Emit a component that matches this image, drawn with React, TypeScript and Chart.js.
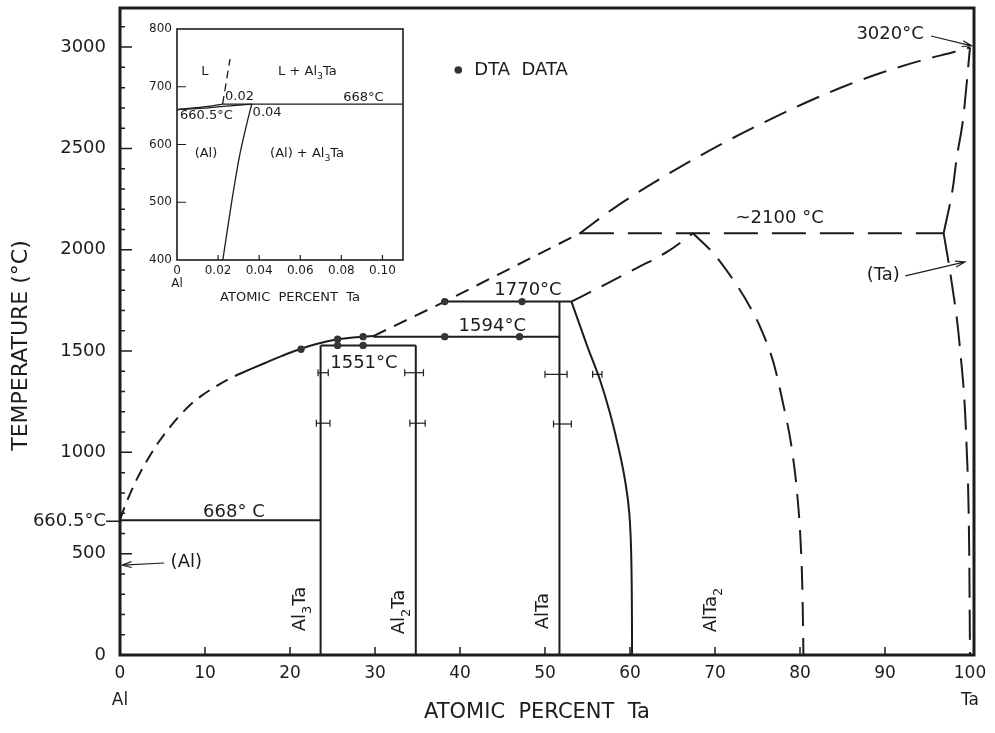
import React, { useEffect, useRef } from 'react';
import { Chart, registerables } from 'chart.js';
Chart.register(...registerables);

const FONT = "'DejaVu Sans', 'Liberation Sans', sans-serif";
const INK = '#1c1c1c';

type Pt = [number, number];

// ---------- main axes ----------
const xTickValues = [0, 10, 20, 30, 40, 50, 60, 70, 80, 90, 100];
const xTickLabels = ['0', '10', '20', '30', '40', '50', '60', '70', '80', '90', '100'];
const xTickSubLabels = ['Al', '', '', '', '', '', '', '', '', '', 'Ta'];
const yTickValues = [0, 500, 660.5, 1000, 1500, 2000, 2500, 3000];
const yTickLabels = ['0', '500', '660.5°C', '1000', '1500', '2000', '2500', '3000'];

// ---------- main phase boundaries (at.% Ta, °C) ----------
const liquidusLowDashed: Pt[] = [[0, 668], [0.59, 735], [1.18, 795], [2.12, 879], [3.29, 967], [4.47, 1046], [5.65, 1113], [6.82, 1172], [8.24, 1234], [9.65, 1281], [11.18, 1323], [12.94, 1365], [14.71, 1399]];
const liquidusLowSolid: Pt[] = [[14.71, 1399], [17.06, 1441], [19.06, 1476], [21.18, 1510], [23.1, 1535], [25.6, 1558], [28.6, 1571], [29.8, 1574]];
const liquidusMidDashed: Pt[] = [[29.8, 1574], [38.2, 1744], [54.1, 2081]];
const liquidusHighDashed: Pt[] = [[54.1, 2081], [58, 2202], [62.7, 2329], [67.1, 2437], [71, 2527], [75.3, 2619], [80, 2713], [84.7, 2798], [89.4, 2871], [94.1, 2932], [98, 2975], [100, 2998]];
const eutectic668: Pt[] = [[0, 665], [23.6, 665]];
const peritectic1551: Pt[] = [[23.6, 1528], [34.8, 1528]];
const peritectic1594: Pt[] = [[29.8, 1571], [51.7, 1571]];
const peritectic1770: Pt[] = [[38.2, 1744], [53.1, 1744]];
const peritectic2100: Pt[] = [[54.1, 2081], [96.9, 2081]];
const al3TaLine: Pt[] = [[23.6, 0], [23.6, 1528]];
const al2TaLine: Pt[] = [[34.8, 0], [34.8, 1528]];
const alTaLeft: Pt[] = [[51.7, 0], [51.7, 1744]];
const alTaRight: Pt[] = [[53.11, 1744], [54.99, 1522], [56.47, 1357], [57.65, 1193], [58.62, 1028], [59.41, 863], [59.92, 699], [60.06, 600], [60.14, 500], [60.2, 350], [60.23, 180], [60.24, 0]];
const alTa2Rise: Pt[] = [[53.1, 1744], [57, 1827], [61, 1914], [64.5, 1993], [67.4, 2081]];
const alTa2Fall: Pt[] = [[67.4, 2081], [69.8, 1983], [72.55, 1826], [74.1, 1719], [75.3, 1620], [76.9, 1440], [78, 1242], [79, 1028], [79.7, 781], [80.1, 535], [80.3, 288], [80.4, 0]];
const taSolvusUpper: Pt[] = [[96.9, 2081], [98, 2311], [98.4, 2443], [99.2, 2650], [100, 2998]];
const taSolvusLower: Pt[] = [[96.9, 2081], [97.8, 1851], [98.8, 1522], [99.6, 1028], [99.9, 535], [100, 0]];

// DTA data points
const dtaX = [21.3, 25.6, 25.6, 28.6, 28.6, 38.2, 47.0, 38.2, 47.3];
const dtaY = [1509, 1558, 1528, 1571, 1528, 1571, 1571, 1744, 1744];

// composition error bars
const errY = [1393, 1144, 1393, 1144, 1385, 1140, 1385];
const errLo = [23.3, 23.1, 33.5, 34.1, 50.0, 51.0, 55.6];
const errHi = [24.5, 24.7, 35.7, 35.9, 52.6, 53.1, 56.7];

// ---------- inset (0 - 0.11 at.% Ta) ----------
const insetXTicks = [0, 0.02, 0.04, 0.06, 0.08, 0.1];
const insetXLabels = ['0', '0.02', '0.04', '0.06', '0.08', '0.10'];
const insetXSub = ['Al', '', '', '', '', ''];
const insetYTicks = [400, 500, 600, 700, 800];
const insetYLabels = ['400', '500', '600', '700', '800'];
const insetLiquidus: Pt[] = [[0, 660.5], [0.0128, 665], [0.0222, 670]];
const insetSolidus: Pt[] = [[0, 660.5], [0.0128, 663], [0.0226, 666], [0.0364, 670]];
const insetSolvus: Pt[] = [[0.0223, 400], [0.0264, 496], [0.0301, 574], [0.0339, 635], [0.0364, 670]];
const insetPeritectic: Pt[] = [[0.0222, 670], [0.11, 670]];
const insetLiquidusAbove: Pt[] = [[0.0222, 670], [0.0258, 748]];

// ---------- annotations (data coordinates) ----------
const mainLabels = [
  { t: '668° C', x: 13.4, y: 706 },
  { t: '1551°C', x: 28.7, y: 1441 },
  { t: '1594°C', x: 43.8, y: 1624 },
  { t: '1770°C', x: 48.0, y: 1802 },
  { t: '~2100 °C', x: 77.6, y: 2157 },
  { t: '3020°C', x: 90.6, y: 3065 },
  { t: '(Ta)', x: 89.8, y: 1876 },
  { t: '(Al)', x: 7.8, y: 459 },
];
const phaseLabels = [
  { t: 'Al_3Ta', x: 21.2, y: 227 },
  { t: 'Al_2Ta', x: 32.9, y: 212 },
  { t: 'AlTa', x: 49.8, y: 217 },
  { t: 'AlTa_2', x: 69.6, y: 222 },
];
const mainArrows = [
  { x1: 95.4, y1: 3055, x2: 100.2, y2: 3006 },
  { x1: 92.4, y1: 1871, x2: 99.4, y2: 1940 },
  { x1: 5.2, y1: 454, x2: 0.24, y2: 444 },
];
const legendPos = { x: 39.8, y: 2887 };
const insetLabels = [
  { t: 'L', x: 0.0136, y: 726, c: true },
  { t: 'L + Al_3Ta', x: 0.0492, y: 726, c: false },
  { t: '0.02', x: 0.0234, y: 683, c: false },
  { t: '668°C', x: 0.0809, y: 681, c: false },
  { t: '660.5°C', x: 0.0015, y: 650, c: false },
  { t: '0.04', x: 0.0368, y: 656, c: false },
  { t: '(Al)', x: 0.0141, y: 585, c: true },
  { t: '(Al) + Al_3Ta', x: 0.0453, y: 585, c: false },
];

// ---------- helpers ----------
function toXY(pts: Pt[]) {
  return pts.map(([x, y]) => ({ x, y }));
}
function lineDs(pts: Pt[], dash: number[] = [], curved = false, width = 2) {
  return {
    data: toXY(pts),
    showLine: true,
    borderColor: INK,
    borderWidth: width,
    borderDash: dash,
    borderCapStyle: 'butt',
    cubicInterpolationMode: curved ? 'monotone' : 'default',
    tension: 0,
    pointRadius: 0,
    pointHoverRadius: 0,
    fill: false,
  };
}
type Part = { t: string; sub: boolean };
function parseRich(s: string): Part[] {
  const parts: Part[] = [];
  let buf = '';
  for (let i = 0; i < s.length; i++) {
    if (s[i] === '_' && i + 1 < s.length) {
      if (buf) parts.push({ t: buf, sub: false });
      buf = '';
      parts.push({ t: s[i + 1], sub: true });
      i++;
    } else buf += s[i];
  }
  if (buf) parts.push({ t: buf, sub: false });
  return parts;
}
function drawRich(ctx: CanvasRenderingContext2D, s: string, x: number, y: number, size: number, center: boolean, rot = 0) {
  const parts = parseRich(s);
  ctx.save();
  ctx.translate(x, y);
  if (rot) ctx.rotate(rot);
  ctx.textBaseline = 'middle';
  ctx.textAlign = 'left';
  ctx.fillStyle = INK;
  const sub = size * 0.72;
  let total = 0;
  const widths = parts.map((p) => {
    ctx.font = `${p.sub ? sub : size}px ${FONT}`;
    const w = ctx.measureText(p.t).width;
    total += w;
    return w;
  });
  let cx = center ? -total / 2 : 0;
  parts.forEach((p, i) => {
    ctx.font = `${p.sub ? sub : size}px ${FONT}`;
    ctx.fillText(p.t, cx, p.sub ? size * 0.4 : 0);
    cx += widths[i];
  });
  ctx.restore();
}
function drawArrow(ctx: CanvasRenderingContext2D, x1: number, y1: number, x2: number, y2: number) {
  const a = Math.atan2(y2 - y1, x2 - x1);
  ctx.save();
  ctx.strokeStyle = INK;
  ctx.lineWidth = 1.2;
  ctx.beginPath();
  ctx.moveTo(x1, y1);
  ctx.lineTo(x2, y2);
  ctx.moveTo(x2 - 10 * Math.cos(a - 0.3), y2 - 10 * Math.sin(a - 0.3));
  ctx.lineTo(x2, y2);
  ctx.lineTo(x2 - 10 * Math.cos(a + 0.3), y2 - 10 * Math.sin(a + 0.3));
  ctx.stroke();
  ctx.restore();
}

const mainDecor = {
  id: 'mainDecor',
  afterDraw(chart: any) {
    const { ctx, chartArea: ca, scales } = chart;
    const xs = scales.x;
    const ys = scales.y;
    ctx.save();
    ctx.strokeStyle = INK;
    ctx.lineWidth = 1.5;
    ctx.beginPath();
    for (let v = 100; v <= 3100; v += 100) {
      const py = ys.getPixelForValue(v);
      const len = v % 500 === 0 ? 12 : 5;
      ctx.moveTo(ca.left, py);
      ctx.lineTo(ca.left + len, py);
    }
    const p660 = ys.getPixelForValue(660.5);
    ctx.moveTo(ca.left - 14, p660);
    ctx.lineTo(ca.left, p660);
    for (let v = 10; v <= 90; v += 10) {
      const px = xs.getPixelForValue(v);
      ctx.moveTo(px, ca.bottom);
      ctx.lineTo(px, ca.bottom - 8);
    }
    ctx.stroke();
    ctx.lineWidth = 3;
    ctx.strokeRect(ca.left, ca.top, ca.right - ca.left, ca.bottom - ca.top);
    ctx.restore();

    mainLabels.forEach((l) => drawRich(ctx, l.t, xs.getPixelForValue(l.x), ys.getPixelForValue(l.y), 18, true));
    phaseLabels.forEach((l) => drawRich(ctx, l.t, xs.getPixelForValue(l.x), ys.getPixelForValue(l.y), 18, true, -Math.PI / 2));
    mainArrows.forEach((a) =>
      drawArrow(ctx, xs.getPixelForValue(a.x1), ys.getPixelForValue(a.y1), xs.getPixelForValue(a.x2), ys.getPixelForValue(a.y2))
    );
    const lx = xs.getPixelForValue(legendPos.x);
    const ly = ys.getPixelForValue(legendPos.y);
    ctx.save();
    ctx.fillStyle = '#333';
    ctx.beginPath();
    ctx.arc(lx, ly, 3.8, 0, Math.PI * 2);
    ctx.fill();
    ctx.restore();
    drawRich(ctx, 'DTA  DATA', lx + 16, ly, 18, false);
  },
};

const insetDecor = {
  id: 'insetDecor',
  afterDraw(chart: any) {
    const { ctx, chartArea: ca, scales } = chart;
    const xs = scales.x;
    const ys = scales.y;
    ctx.save();
    ctx.strokeStyle = INK;
    ctx.lineWidth = 1.2;
    ctx.beginPath();
    [500, 600, 700].forEach((v) => {
      const py = ys.getPixelForValue(v);
      ctx.moveTo(ca.left, py);
      ctx.lineTo(ca.left + 9, py);
    });
    [0.02, 0.04, 0.06, 0.08, 0.1].forEach((v) => {
      const px = xs.getPixelForValue(v);
      ctx.moveTo(px, ca.bottom);
      ctx.lineTo(px, ca.bottom - 5);
    });
    ctx.stroke();
    ctx.lineWidth = 1.6;
    ctx.strokeRect(ca.left, ca.top, ca.right - ca.left, ca.bottom - ca.top);
    ctx.restore();
    insetLabels.forEach((l) => drawRich(ctx, l.t, xs.getPixelForValue(l.x), ys.getPixelForValue(l.y), 13, l.c));
  },
};

function mainConfig(): any {
  const datasets: any[] = [];
  datasets.push({
    data: dtaX.map((x, i) => ({ x, y: dtaY[i] })),
    showLine: false,
    pointRadius: 3.7,
    pointStyle: 'circle',
    backgroundColor: '#353535',
    borderColor: '#353535',
    borderWidth: 0,
  });
  errY.forEach((y, i) => {
    datasets.push({
      data: [{ x: errLo[i], y }, { x: errHi[i], y }],
      showLine: true,
      borderColor: INK,
      borderWidth: 1.2,
      pointStyle: 'line',
      pointRotation: 90,
      pointRadius: 3.5,
      pointBorderWidth: 1.2,
      pointBorderColor: INK,
    });
  });
  datasets.push(lineDs(liquidusLowDashed, [13, 8], true));
  datasets.push(lineDs(liquidusLowSolid, [], true));
  datasets.push(lineDs(liquidusMidDashed, [14, 9]));
  datasets.push(lineDs(liquidusHighDashed, [24, 12], true));
  datasets.push(lineDs(eutectic668));
  datasets.push(lineDs(peritectic1551));
  datasets.push(lineDs(peritectic1594));
  datasets.push(lineDs(peritectic1770));
  datasets.push(lineDs(peritectic2100, [34, 14]));
  datasets.push(lineDs(al3TaLine));
  datasets.push(lineDs(al2TaLine));
  datasets.push(lineDs(alTaLeft));
  datasets.push(lineDs(alTaRight, [], true));
  datasets.push(lineDs(alTa2Rise, [22, 12], true));
  datasets.push(lineDs(alTa2Fall, [24, 12], true));
  datasets.push(lineDs(taSolvusUpper, [30, 12], true));
  datasets.push(lineDs(taSolvusLower, [30, 12], true));

  return {
    type: 'scatter',
    data: { datasets },
    options: {
      animation: false,
      responsive: false,
      maintainAspectRatio: false,
      events: [],
      layout: { padding: { left: 8, right: 21, top: 8, bottom: 8 } },
      plugins: { legend: { display: false }, tooltip: { enabled: false } },
      scales: {
        x: {
          type: 'linear',
          min: 0,
          max: 100.47,
          afterBuildTicks: (s: any) => {
            s.ticks = xTickValues.map((v) => ({ value: v }));
          },
          afterFit: (s: any) => {
            s.height = 70;
            s.paddingLeft = 0;
            s.paddingRight = 0;
          },
          grid: { display: false, drawTicks: false },
          border: { display: false },
          ticks: {
            autoSkip: false,
            maxRotation: 0,
            minRotation: 0,
            padding: 5,
            color: INK,
            font: { family: FONT, size: 17, lineHeight: 1.6 },
            callback: (v: number) => {
              const i = xTickValues.indexOf(v);
              if (i < 0) return '';
              return xTickSubLabels[i] ? [xTickLabels[i], xTickSubLabels[i]] : xTickLabels[i];
            },
          },
          title: {
            display: true,
            text: 'ATOMIC  PERCENT  Ta   ',
            color: INK,
            font: { family: FONT, size: 21 },
            padding: { top: 0, bottom: 0 },
          },
        },
        y: {
          type: 'linear',
          min: 0,
          max: 3193,
          afterBuildTicks: (s: any) => {
            s.ticks = yTickValues.map((v) => ({ value: v }));
          },
          afterFit: (s: any) => {
            s.width = 112;
            s.paddingTop = 0;
            s.paddingBottom = 0;
          },
          grid: { display: false, drawTicks: false },
          border: { display: false },
          ticks: {
            autoSkip: false,
            padding: 14,
            color: INK,
            font: { family: FONT, size: 18 },
            callback: (v: number) => {
              const i = yTickValues.indexOf(v);
              return i < 0 ? '' : yTickLabels[i];
            },
          },
          title: {
            display: true,
            text: 'TEMPERATURE (°C)    ',
            color: INK,
            font: { family: FONT, size: 22 },
            padding: { top: 0, bottom: 0 },
          },
        },
      },
    },
    plugins: [mainDecor],
  };
}

function insetConfig(): any {
  const datasets: any[] = [
    lineDs(insetPeritectic, [], false, 1.3),
    lineDs(insetLiquidus, [], true, 1.3),
    lineDs(insetSolidus, [], true, 1.3),
    lineDs(insetSolvus, [], true, 1.3),
    lineDs(insetLiquidusAbove, [8, 5], false, 1.3),
  ];
  return {
    type: 'scatter',
    data: { datasets },
    options: {
      animation: false,
      responsive: false,
      maintainAspectRatio: false,
      events: [],
      layout: { padding: { left: 0, right: 7, top: 11, bottom: 0 } },
      plugins: { legend: { display: false }, tooltip: { enabled: false } },
      scales: {
        x: {
          type: 'linear',
          min: 0,
          max: 0.11,
          afterBuildTicks: (s: any) => {
            s.ticks = insetXTicks.map((v) => ({ value: v }));
          },
          afterFit: (s: any) => {
            s.height = 48;
            s.paddingLeft = 0;
            s.paddingRight = 0;
          },
          grid: { display: false, drawTicks: false },
          border: { display: false },
          ticks: {
            autoSkip: false,
            maxRotation: 0,
            minRotation: 0,
            padding: 5,
            color: INK,
            font: { family: FONT, size: 12, lineHeight: 1.05 },
            callback: (v: number) => {
              const i = insetXTicks.findIndex((t) => Math.abs(t - v) < 1e-9);
              if (i < 0) return '';
              return insetXSub[i] ? [insetXLabels[i], insetXSub[i]] : insetXLabels[i];
            },
          },
          title: {
            display: true,
            text: 'ATOMIC  PERCENT  Ta',
            color: INK,
            font: { family: FONT, size: 13 },
            padding: { top: 0, bottom: 3 },
          },
        },
        y: {
          type: 'linear',
          min: 400,
          max: 800,
          afterBuildTicks: (s: any) => {
            s.ticks = insetYTicks.map((v) => ({ value: v }));
          },
          afterFit: (s: any) => {
            s.width = 42;
            s.paddingTop = 0;
            s.paddingBottom = 0;
          },
          grid: { display: false, drawTicks: false },
          border: { display: false },
          ticks: {
            autoSkip: false,
            padding: 5,
            color: INK,
            font: { family: FONT, size: 12 },
            callback: (v: number) => {
              const i = insetYTicks.indexOf(v);
              return i < 0 ? '' : insetYLabels[i];
            },
          },
        },
      },
    },
    plugins: [insetDecor],
  };
}

export default function App() {
  const mainRef = useRef<HTMLCanvasElement>(null);
  const insetRef = useRef<HTMLCanvasElement>(null);
  useEffect(() => {
    const main = new Chart(mainRef.current as HTMLCanvasElement, mainConfig());
    const inset = new Chart(insetRef.current as HTMLCanvasElement, insetConfig());
    return () => {
      main.destroy();
      inset.destroy();
    };
  }, []);
  return (
    <div style={{ position: 'absolute', left: 0, top: 0, width: 995, height: 733, background: '#fff', overflow: 'hidden' }}>
      <canvas ref={mainRef} width={995} height={733} style={{ position: 'absolute', left: 0, top: 0, width: 995, height: 733 }} />
      <canvas ref={insetRef} width={275} height={290} style={{ position: 'absolute', left: 135, top: 18, width: 275, height: 290 }} />
    </div>
  );
}
